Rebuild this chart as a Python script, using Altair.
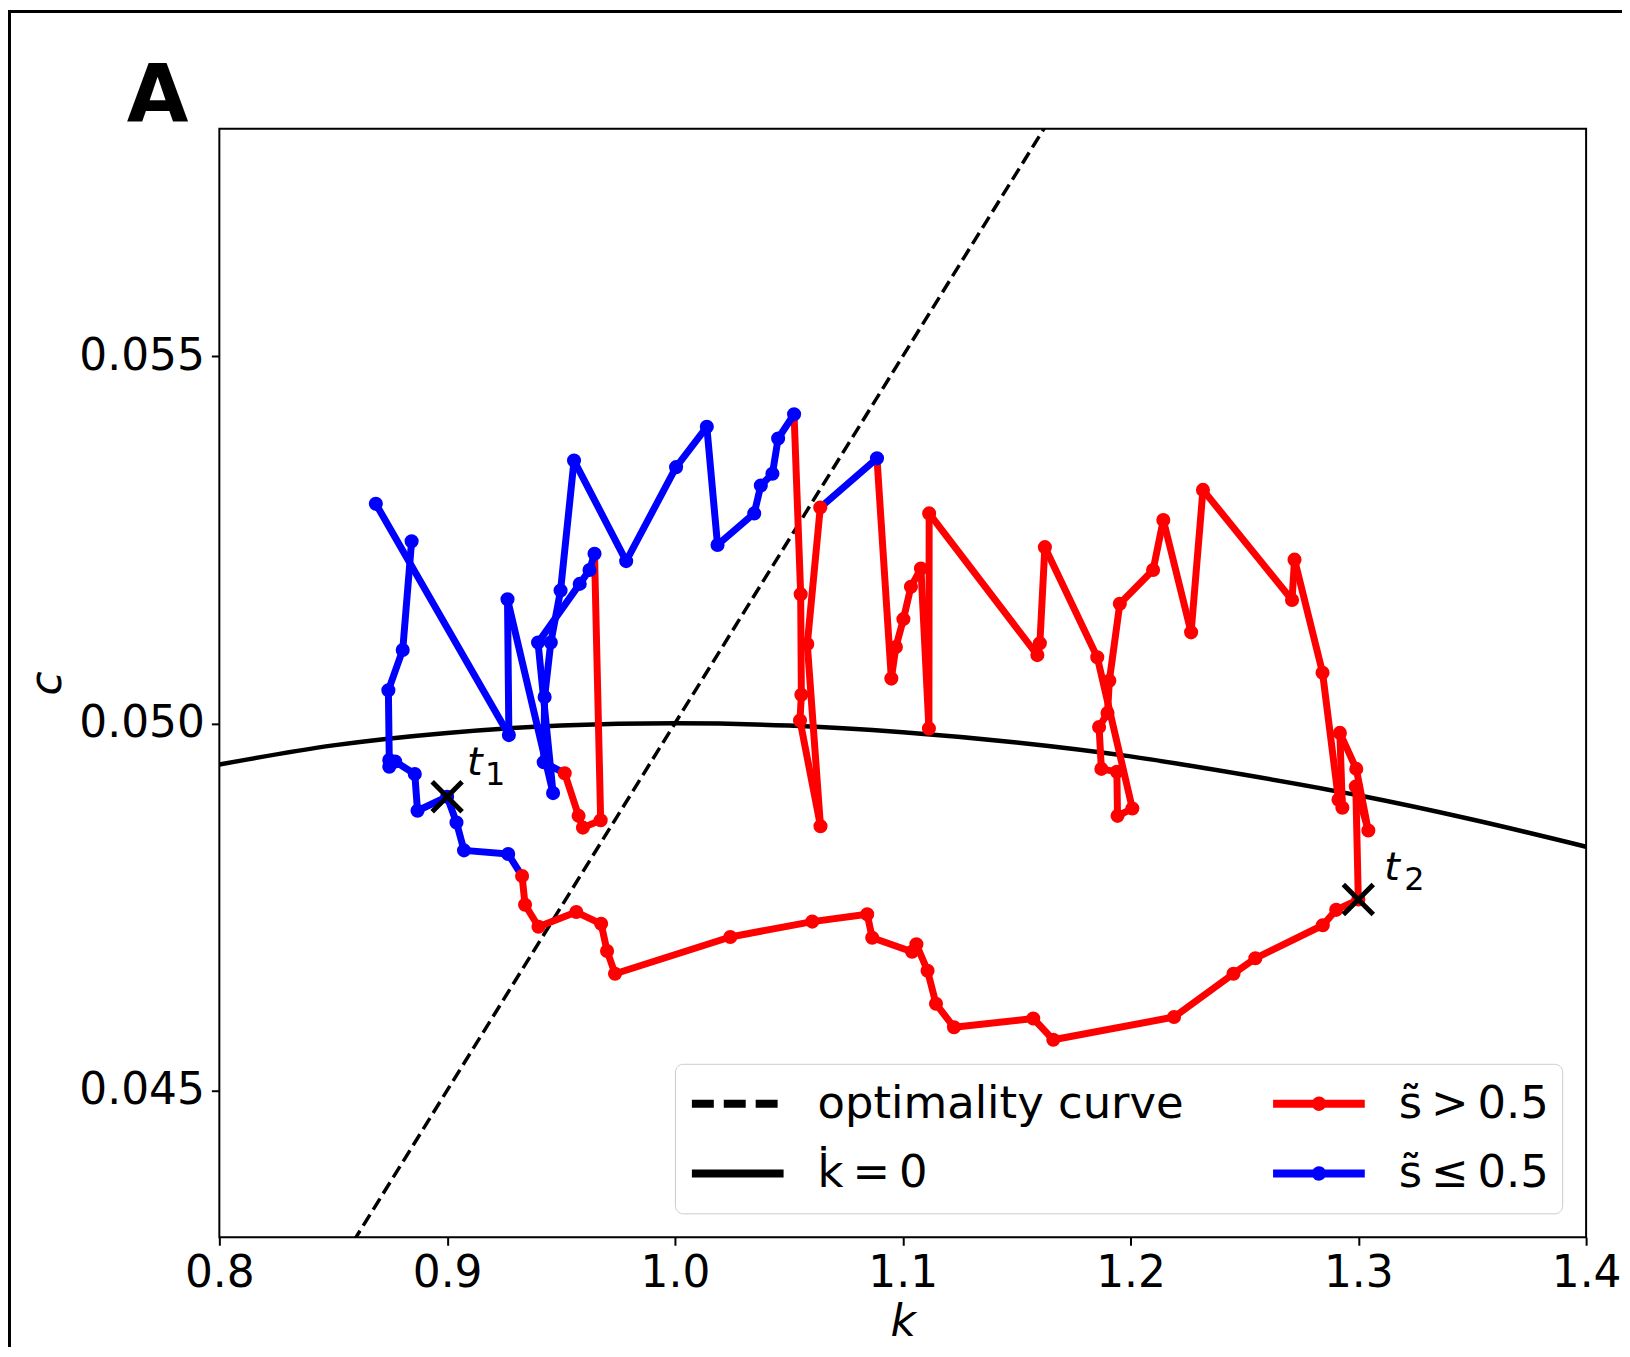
import altair as alt
import pandas as pd

FONT = "DejaVu Sans"
TS = "\u2009"
HI = "s\u0303" + TS + ">" + TS + "0.5"
LO = "s\u0303" + TS + "\u2264" + TS + "0.5"
OPT = "optimality curve"
KDOT = "k\u0307" + TS + "=" + TS + "0"

# trajectory in time order
k_traj = [0.8844, 0.8805, 0.8742, 0.8746, 0.8746, 0.8772, 0.8858, 0.8870, 0.9000, 0.9041,
          0.9074, 0.9268, 0.9329, 0.9342, 0.9401, 0.9567, 0.9676, 0.9702, 0.9737, 1.0243,
          1.0603, 1.0844, 1.0866, 1.1041, 1.1060, 1.1109, 1.1146, 1.1225, 1.1573, 1.1661,
          1.2191, 1.2452, 1.2548, 1.2844, 1.2903, 1.3000, 1.2989, 1.3044, 1.2991, 1.2919,
          1.2930, 1.2913, 1.2843, 1.2720, 1.2709, 1.2318, 1.2266, 1.2144, 1.2099, 1.1953,
          1.1907, 1.1899, 1.1862, 1.1872, 1.1940, 1.1943, 1.2008, 1.1854, 1.1624, 1.1602,
          1.1591, 1.1116, 1.1115, 1.1080, 1.1036, 1.1003, 1.0970, 1.0950, 1.0887, 1.0638,
          1.0581, 1.0639, 1.0549, 1.0555, 1.0552, 1.0523, 1.0453, 1.0428, 1.0377, 1.0348,
          1.0187, 1.0140, 1.0005, 0.9786, 0.9557, 0.9498, 0.9455, 0.9428, 0.9424, 0.9516,
          0.9577, 0.9596, 0.9674, 0.9647, 0.9625, 0.9582, 0.9399, 0.9465, 0.9265, 0.9271,
          0.8687]
c_traj = [0.05248, 0.05100, 0.05045, 0.04950, 0.04941, 0.04948, 0.04931, 0.04881, 0.04900, 0.04865,
          0.04827, 0.04822, 0.04792, 0.04753, 0.04723, 0.04743, 0.04727, 0.04690, 0.04659, 0.04709,
          0.04730, 0.04740, 0.04708, 0.04689, 0.04699, 0.04663, 0.04618, 0.04586, 0.04598, 0.04569,
          0.04600, 0.04659, 0.04680, 0.04725, 0.04746, 0.04760, 0.04914, 0.04854, 0.04938, 0.04987,
          0.04885, 0.04896, 0.05069, 0.05223, 0.05168, 0.05318, 0.05124, 0.05277, 0.05209, 0.05163,
          0.05058, 0.05014, 0.04995, 0.04938, 0.04934, 0.04874, 0.04884, 0.05090, 0.05240, 0.05109,
          0.05093, 0.05286, 0.04993, 0.05211, 0.05186, 0.05142, 0.05104, 0.05061, 0.05361, 0.05294,
          0.05108, 0.04860, 0.05004, 0.05039, 0.05176, 0.05421, 0.05388, 0.05340, 0.05324, 0.05286,
          0.05243, 0.05404, 0.05349, 0.05221, 0.05358, 0.05181, 0.05110, 0.05036, 0.04947, 0.04932,
          0.04874, 0.04858, 0.04868, 0.05231, 0.05209, 0.05190, 0.05110, 0.04905, 0.05169, 0.04984,
          0.05299]
# r: s~ > 0.5, b: s~ <= 0.5 (one letter per trajectory point)
state_traj = list("bbbbbbbbbb" "bbrrrrrrrr" "rrrrrrrrrr" "rrrrrrrrrr" "rrrrrrrrrr"
                  "rrrrrrrrrr" "rrrrrrrrbr" "rrrrrbbbbb" "bbbbbbbbbr" "rrrbbbbbbb" "b")

# k-dot = 0 curve
kdot_k = [0.80, 0.85, 0.90, 0.95, 1.00, 1.05, 1.10, 1.15, 1.20, 1.25, 1.30, 1.35, 1.40]
kdot_c = [0.04944, 0.04970, 0.04987, 0.04997, 0.05000, 0.04997, 0.04988, 0.04974,
          0.04955, 0.04930, 0.04902, 0.04869, 0.04832]
# optimality curve (straight line)
opt_k = [0.85, 1.17]
opt_c = [0.0425, 0.0585]

t_k = [0.90, 1.30]
t_c = [0.0490, 0.0476]
t_main = ["t", "t"]
t_sub = ["1", "2"]
t_id = ["t1", "t2"]

x_ticks = [0.8, 0.9, 1.0, 1.1, 1.2, 1.3, 1.4]
y_ticks = [0.045, 0.050, 0.055]

legend_order = [OPT, KDOT, HI, LO]
legend_colors = ["#000000", "#000000", "#ff0000", "#0000ff"]
LINE = "M-1,0L1,0"
LINEDOT = "M-1,0L1,0M0.07,0A0.07,0.07,0,1,1,-0.07,0A0.07,0.07,0,1,1,0.07,0Z"
legend_shapes = [LINE, LINE, LINEDOT, LINEDOT]
legend_dash = [[22, 10], [1, 0], [1, 0], [1, 0]]

name = {"r": HI, "b": LO}
seg_rows = []
for i in range(len(k_traj) - 1):
    s = name[state_traj[i]]
    seg_rows.append({"seg": i, "o": 0, "k": k_traj[i], "c": c_traj[i], "series": s})
    seg_rows.append({"seg": i, "o": 1, "k": k_traj[i + 1], "c": c_traj[i + 1], "series": s})
seg_df = pd.DataFrame(seg_rows)
pts_df = pd.DataFrame({"k": k_traj, "c": c_traj, "series": [name[s] for s in state_traj]})
kdot_df = pd.DataFrame({"k": kdot_k, "c": kdot_c, "series": KDOT})
opt_df = pd.DataFrame({"k": opt_k, "c": opt_c, "series": OPT})
t_df = pd.DataFrame({"k": t_k, "c": t_c, "main": t_main, "sub": t_sub, "id": t_id})
leg_df = pd.DataFrame({"k": [1.6] * 4, "c": [0.05] * 4, "series": legend_order})

x_scale = alt.Scale(domain=[0.8, 1.4], nice=False, zero=False)
y_scale = alt.Scale(domain=[0.0430, 0.0581], nice=False, zero=False)

x_axis = alt.Axis(values=x_ticks, format=".1f", title="k", grid=False, domain=False,
                  labelFont=FONT, labelFontSize=44, labelColor="black", labelFlush=False,
                  labelOverlap=False, labelPadding=6, tickSize=8, tickWidth=2, tickColor="black",
                  titleFont=FONT, titleFontSize=44, titleFontStyle="italic",
                  titleFontWeight="normal", titleColor="black", titleX=685.5, titleY=99,
                  titleBaseline="alphabetic")
y_axis = alt.Axis(values=y_ticks, format=".3f", title="c", grid=False, domain=False,
                  labelFont=FONT, labelFontSize=44, labelColor="black", labelFlush=False,
                  labelOverlap=False, labelPadding=7, tickSize=8, tickWidth=2, tickColor="black",
                  titleFont=FONT, titleFontSize=44, titleFontStyle="italic",
                  titleFontWeight="normal", titleColor="black", titleX=-159, titleY=556,
                  titleAngle=270, titleBaseline="alphabetic")

X = alt.X("k:Q", scale=x_scale, axis=x_axis)
Y = alt.Y("c:Q", scale=y_scale, axis=y_axis)

legend_def = alt.Legend(title=None, orient="bottom-right", offset=24, columns=2,
                        columnPadding=85, rowPadding=16, padding=13, clipHeight=54,
                        symbolSize=8464, symbolStrokeWidth=8, symbolOffset=0,
                        labelFont=FONT, labelFontSize=45, labelOffset=30, labelLimit=2000,
                        labelColor="black", fillColor="white", strokeColor="#cccccc",
                        cornerRadius=8)
color_enc = alt.Color("series:N", scale=alt.Scale(domain=legend_order, range=legend_colors),
                      legend=legend_def)

kdot_layer = alt.Chart(kdot_df).mark_line(strokeWidth=4.5, clip=True, interpolate="monotone").encode(
    x=X, y=Y, color=color_enc)
opt_layer = alt.Chart(opt_df).mark_line(strokeWidth=3.5, strokeDash=[13, 6], clip=True).encode(
    x=X, y=Y, color=color_enc)
traj_layer = alt.Chart(seg_df).mark_line(strokeWidth=7, strokeJoin="round", strokeCap="round").encode(
    x=X, y=Y, color=color_enc, detail="seg:N", order="o:Q")
pts_layer = alt.Chart(pts_df).mark_circle(size=200, opacity=1).encode(
    x=X, y=Y,
    fill=alt.Fill("series:N", scale=alt.Scale(domain=[HI, LO], range=["#ff0000", "#0000ff"]),
                  legend=None))
leg_layer = alt.Chart(leg_df).mark_point(filled=False, clip=True, size=10, opacity=1).encode(
    x=X, y=Y, color=color_enc,
    shape=alt.Shape("series:N", scale=alt.Scale(domain=legend_order, range=legend_shapes),
                    legend=legend_def),
    strokeDash=alt.StrokeDash("series:N", scale=alt.Scale(domain=legend_order, range=legend_dash),
                              legend=legend_def))
xmark_layer = alt.Chart(t_df).mark_point(shape="M-1,-1L1,1M-1,1L1,-1", size=900, strokeWidth=5,
                                         color="black", filled=False, opacity=1).encode(x=X, y=Y)


def t_text(tid, dx, dy, sdx, sdy):
    base = alt.Chart(t_df).transform_filter(alt.datum.id == tid)
    main = base.mark_text(align="left", baseline="alphabetic", dx=dx, dy=dy, fontSize=40,
                          fontStyle="italic", font=FONT, color="black").encode(
        x=X, y=Y, text="main:N")
    sub = base.mark_text(align="left", baseline="alphabetic", dx=sdx, dy=sdy, fontSize=32,
                         font=FONT, color="black").encode(x=X, y=Y, text="sub:N")
    return [main, sub]


t_layers = t_text("t1", 20, -22, 38, -12) + t_text("t2", 26, -20, 46, -10)

panel_layer = alt.Chart(pd.DataFrame({"lab": ["A"]})).mark_text(
    align="center", baseline="alphabetic", fontSize=80, fontWeight="bold", font=FONT,
    color="black").encode(x=alt.value(-62), y=alt.value(-7), text="lab:N")

frame_df = pd.DataFrame({"a": [0]})
top_band = alt.Chart(frame_df).mark_rule(color="black", strokeWidth=3).encode(
    x=alt.value(-212), x2=alt.value(1371 + 36), y=alt.value(-119 + 1.5))
left_band = alt.Chart(frame_df).mark_rule(color="black", strokeWidth=3).encode(
    x=alt.value(-212 + 1.5), y=alt.value(-119), y2=alt.value(1112 + 110))

chart = alt.layer(kdot_layer, opt_layer, traj_layer, pts_layer, leg_layer, xmark_layer,
                  *t_layers, panel_layer, top_band, left_band).properties(
    width=1371, height=1112,
    padding={"left": 212, "top": 119, "right": 36, "bottom": 110},
    autosize=alt.AutoSizeParams(type="none"),
    background="white",
).configure_view(stroke="black", strokeWidth=2)

chart.save("out.html", embed_options={"renderer": "svg", "actions": False})
